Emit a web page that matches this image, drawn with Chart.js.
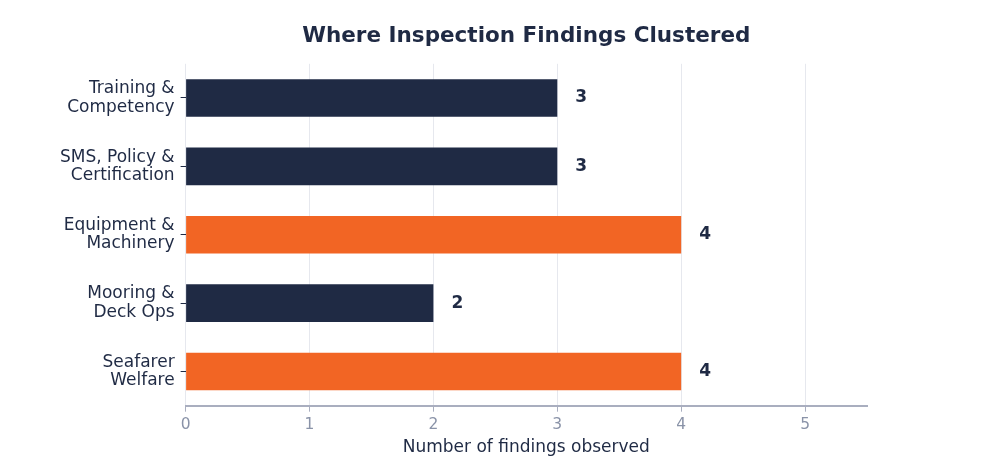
<!DOCTYPE html>
<html>
<head>
<meta charset="utf-8">
<script src="https://cdn.jsdelivr.net/npm/chart.js@4"></script>
<style>
  html, body { margin: 0; padding: 0; background: #fff; }
  #wrap { width: 981px; height: 471px; }
</style>
</head>
<body>
<div id="wrap"><canvas id="findingsChart"></canvas></div>
<script>
/* ===== DATA ===== */
const categories = [
  ["Training &", "Competency"],
  ["SMS, Policy &", "Certification"],
  ["Equipment &", "Machinery"],
  ["Mooring &", "Deck Ops"],
  ["Seafarer", "Welfare"]
];
const findings = [3, 3, 4, 2, 4];
const highlighted = [false, false, true, false, true];
const xTicks = [0, 1, 2, 3, 4, 5];

const NAVY = "#1f2a44";
const ORANGE = "#f26524";

/* ===== VALUE LABELS ===== */
const valueLabels = {
  id: "valueLabels",
  afterDatasetsDraw(chart) {
    const ctx = chart.ctx;
    const meta = chart.getDatasetMeta(0);
    const xs = chart.scales.x;
    ctx.save();
    ctx.font = "bold 17px 'DejaVu Sans'";
    ctx.fillStyle = NAVY;
    ctx.textAlign = "left";
    ctx.textBaseline = "middle";
    meta.data.forEach((bar, i) => {
      const v = findings[i];
      ctx.fillText(String(v), xs.getPixelForValue(v) + 18, bar.y);
    });
    ctx.restore();
  }
};

new Chart(document.getElementById("findingsChart"), {
  type: "bar",
  data: {
    labels: categories,
    datasets: [{
      data: findings,
      backgroundColor: highlighted.map(h => h ? ORANGE : NAVY),
      barPercentage: 0.55,
      categoryPercentage: 1.0
    }]
  },
  options: {
    indexAxis: "y",
    responsive: true,
    maintainAspectRatio: false,
    animation: false,
    layout: { padding: { left: 54, right: 114, top: 20, bottom: 10 } },
    plugins: {
      legend: { display: false },
      tooltip: { enabled: false },
      title: {
        display: true,
        text: "Where Inspection Findings Clustered",
        fullSize: false,
        color: NAVY,
        font: { family: "DejaVu Sans", size: 21.5, weight: "bold" },
        padding: { top: 4, bottom: 14 }
      }
    },
    scales: {
      x: {
        min: 0,
        max: 5.5,
        afterBuildTicks(scale) { scale.ticks = xTicks.map(v => ({ value: v })); },
        grid: { color: "#e6e8ee", tickLength: 6, tickColor: "#a9aebf" },
        border: { color: "#a9aebf", width: 2 },
        ticks: {
          color: "#8a93a8",
          font: { family: "DejaVu Sans", size: 15.5 },
          padding: 4
        },
        title: {
          display: true,
          text: "Number of findings observed",
          color: NAVY,
          font: { family: "DejaVu Sans", size: 17, lineHeight: 1.1 },
          padding: { top: 0 }
        }
      },
      y: {
        grid: { drawOnChartArea: false, offset: false, tickLength: 5, tickColor: NAVY },
        border: { display: false },
        ticks: {
          color: NAVY,
          font: { family: "DejaVu Sans", size: 17, lineHeight: 1.08 },
          padding: 6
        }
      }
    }
  },
  plugins: [valueLabels]
});
</script>
</body>
</html>
